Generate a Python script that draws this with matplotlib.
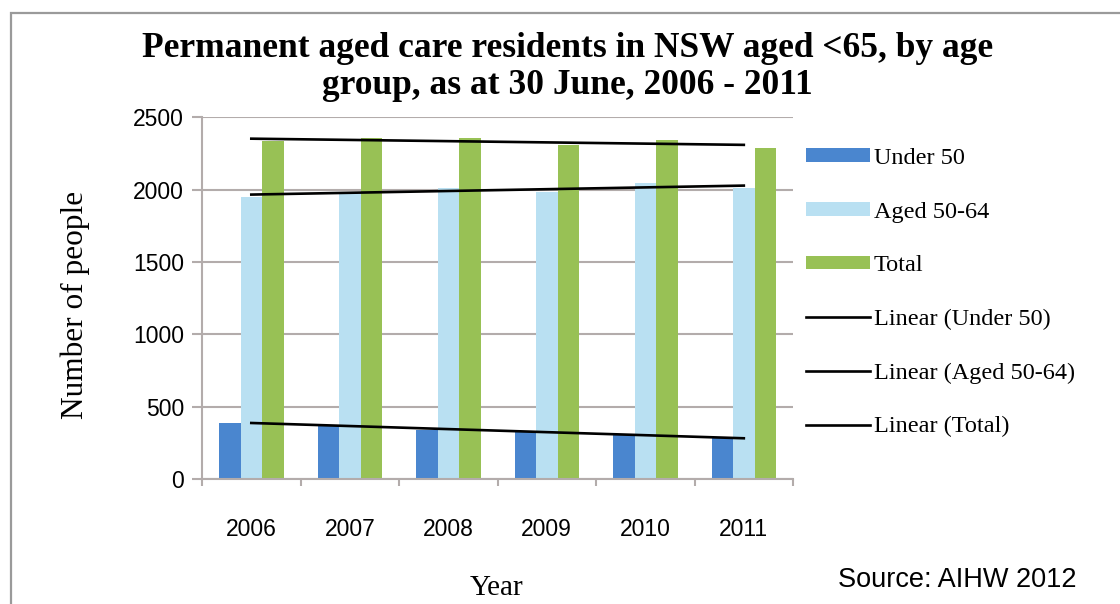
import matplotlib

matplotlib.use("Agg")
import matplotlib.pyplot as plt
import numpy as np
from matplotlib.lines import Line2D
from matplotlib.patches import Patch, Rectangle

years = ["2006", "2007", "2008", "2009", "2010", "2011"]
under_50 = [385, 370, 342, 326, 302, 281]
aged_50_64 = [1952, 1985, 2014, 1982, 2044, 2010]
total = [2336, 2355, 2356, 2308, 2346, 2291]

series_labels = ["Under 50", "Aged 50-64", "Total"]
trend_labels = ["Linear (Under 50)", "Linear (Aged 50-64)", "Linear (Total)"]
colors = ["#4a86cf", "#b9e0f2", "#98c155"]

title = "Permanent aged care residents in NSW aged <65, by age\ngroup, as at 30 June, 2006 - 2011"
source = "Source: AIHW 2012"

SERIF = ["Liberation Serif", "DejaVu Serif"]
SANS = ["Liberation Sans", "DejaVu Sans"]
GRID = "#b3acab"


def linear_trend(values):
    # least squares line through the series, like a spreadsheet trendline
    x = np.arange(1, len(values) + 1)
    slope, intercept = np.polyfit(x, values, 1)
    return slope * x + intercept


fig = plt.figure(figsize=(11.2, 6.04), dpi=100)
fig.patch.set_facecolor("white")

# thin grey frame around the chart area (left and top edge visible)
fig.patches.append(
    Rectangle((0.0098, -0.2), 1.3, 1.1785, transform=fig.transFigure,
              fill=False, edgecolor="#9a9a9a", linewidth=1.6)
)

ax = fig.add_axes([0.1804, 0.2070, 0.5277, 0.5985])

idx = np.arange(len(years))
width = 0.218
all_series = [under_50, aged_50_64, total]
for i, (vals, col) in enumerate(zip(all_series, colors)):
    ax.bar(idx + (i - 1) * width, vals, width, color=col, zorder=2)

for vals in all_series:
    ax.plot(idx, linear_trend(vals), color="black", linewidth=1.9, zorder=3)

ax.set_xlim(-0.5, len(years) - 0.5)
ax.set_ylim(0, 2500)
ax.set_yticks(np.arange(0, 2501, 500))
ax.yaxis.grid(True, color=GRID, linewidth=1.5, zorder=0)
ax.set_axisbelow(True)

# category boundaries get the tick marks, year labels sit in between
ax.set_xticks(np.arange(-0.5, len(years), 1.0))
ax.set_xticklabels([])
ax.set_xticks(idx, minor=True)
ax.set_xticklabels(years, minor=True, fontfamily=SANS, fontsize=16.5)
ax.tick_params(axis="x", which="major", length=5, color=GRID, width=1.5)
ax.tick_params(axis="x", which="minor", length=0, pad=28)
ax.tick_params(axis="y", length=7, color=GRID, width=1.5, pad=6, labelsize=16.5)
for lab in ax.get_yticklabels():
    lab.set_fontfamily(SANS)

for side in ["top", "right"]:
    ax.spines[side].set_visible(False)
for side in ["left", "bottom"]:
    ax.spines[side].set_color(GRID)
    ax.spines[side].set_linewidth(1.5)

fig.text(0.507, 1 - 67 / 604, title, ha="center", va="center", fontfamily=SERIF,
         fontweight="bold", fontsize=25.5, linespacing=1.13)
fig.text(75 / 1120, 1 - 305 / 604, "Number of people", rotation=90,
         ha="center", va="center", fontfamily=SERIF, fontsize=22.5)
fig.text(497 / 1120, 1 - 588 / 604, "Year", ha="center", va="center",
         fontfamily=SERIF, fontsize=21)
fig.text(838 / 1120, 1 - 580 / 604, source, ha="left", va="center",
         fontfamily=SANS, fontsize=19.5)

handles = [Patch(facecolor=c, edgecolor="none") for c in colors]
handles += [Line2D([0], [0], color="black", linewidth=1.9) for _ in trend_labels]
fig.legend(handles, series_labels + trend_labels, loc="upper left",
           bbox_to_anchor=(806 / 1120, 1 - 148 / 604), frameon=False,
           prop={"family": SERIF, "size": 17.5}, handlelength=2.65,
           handleheight=0.5, handletextpad=0.15, labelspacing=1.34,
           borderpad=0, borderaxespad=0)

fig.savefig("out.png", dpi=100, facecolor="white")
